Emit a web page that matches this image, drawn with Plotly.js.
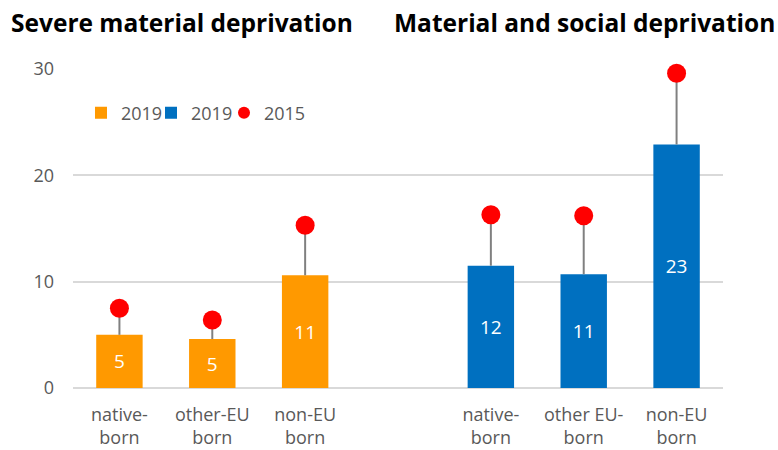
<!DOCTYPE html>
<html>
<head>
<meta charset="utf-8">
<script src="https://cdn.plot.ly/plotly-3.0.1.min.js"></script>
<style>
  html, body { margin: 0; padding: 0; background: #fff; }
  #chart { width: 778px; height: 450px; }
</style>
</head>
<body>
<div id="chart"></div>
<script>
// ---- data ----
var categoryKeys = ['sm_native', 'sm_otherEU', 'sm_nonEU', 'gap', 'msd_native', 'msd_otherEU', 'msd_nonEU'];
var tickLabels = ['native-<br>born', 'other-EU<br>born', 'non-EU<br>born', '', 'native-<br>born', 'other EU-<br>born', 'non-EU<br>born'];

var severeKeys = ['sm_native', 'sm_otherEU', 'sm_nonEU'];
var severe2019 = [5.0, 4.6, 10.6];
var severe2015 = [7.5, 6.4, 15.3];

var socialKeys = ['msd_native', 'msd_otherEU', 'msd_nonEU'];
var social2019 = [11.5, 10.7, 22.9];
var social2015 = [16.3, 16.2, 29.6];

var titleLeft = 'Severe material deprivation';
var titleRight = 'Material and social deprivation';

// ---- styles ----
var FONT = 'Open Sans, Noto Sans, sans-serif';
var GREY_TEXT = '#595959';
var ORANGE = '#FF9900';
var BLUE = '#0070C0';
var RED = '#FF0000';
var STEM = '#808080';

function diffs(a, b) { return a.map(function (v, i) { return b[i] - v; }); }
function zeros(a) { return a.map(function () { return 0; }); }
function rounded(a) { return a.map(function (v) { return String(Math.round(v)); }); }

var barCommon = {
  type: 'bar',
  width: 0.5,
  textposition: 'inside',
  insidetextanchor: 'middle',
  textangle: 0,
  textfont: { color: '#ffffff', size: 19, family: FONT },
  hoverinfo: 'skip'
};

var traces = [
  Object.assign({}, barCommon, {
    name: '2019',
    legend: 'legend',
    x: severeKeys,
    y: severe2019,
    text: rounded(severe2019),
    marker: { color: ORANGE },
    error_y: { type: 'data', symmetric: false, array: diffs(severe2019, severe2015), arrayminus: zeros(severe2019), width: 0, thickness: 2, color: STEM }
  }),
  Object.assign({}, barCommon, {
    name: '2019',
    legend: 'legend2',
    x: socialKeys,
    y: social2019,
    text: rounded(social2019),
    marker: { color: BLUE },
    error_y: { type: 'data', symmetric: false, array: diffs(social2019, social2015), arrayminus: zeros(social2019), width: 0, thickness: 2, color: STEM }
  }),
  {
    type: 'scatter',
    mode: 'markers',
    name: '2015',
    legend: 'legend3',
    x: severeKeys.concat(socialKeys),
    y: severe2015.concat(social2015),
    marker: { color: RED, size: 19 },
    cliponaxis: false,
    hoverinfo: 'skip'
  }
];

function legendAt(xPaper) {
  return {
    orientation: 'h',
    x: xPaper, xanchor: 'left',
    y: 0.862, yanchor: 'middle',
    font: { size: 18, color: GREY_TEXT, family: FONT },
    itemsizing: 'constant',
    bgcolor: 'rgba(0,0,0,0)'
  };
}

var layout = {
  width: 778,
  height: 450,
  margin: { l: 73, r: 55, t: 69, b: 62 },
  paper_bgcolor: '#ffffff',
  plot_bgcolor: '#ffffff',
  font: { family: FONT, color: GREY_TEXT, size: 18 },
  barmode: 'overlay',
  showlegend: true,
  legend: legendAt(0.0123),
  legend2: legendAt(0.12),
  legend3: legendAt(0.2323),
  xaxis: {
    type: 'category',
    categoryorder: 'array',
    categoryarray: categoryKeys,
    tickvals: categoryKeys,
    ticktext: tickLabels,
    range: [-0.5, 6.5],
    showgrid: false,
    showline: false,
    zeroline: false,
    ticks: '',
    ticklabelstandoff: 14,
    tickfont: { size: 18, color: GREY_TEXT }
  },
  yaxis: {
    range: [0, 30],
    tickvals: [0, 10, 20, 30],
    showgrid: true,
    gridcolor: '#D9D9D9',
    gridwidth: 2,
    zeroline: true,
    zerolinecolor: '#D9D9D9',
    zerolinewidth: 2,
    showline: false,
    ticks: '',
    ticklabelstandoff: 18,
    tickfont: { size: 18, color: GREY_TEXT }
  },
  annotations: [
    {
      text: titleLeft, xref: 'paper', yref: 'paper', x: -73 / 650, xshift: 9, y: 1, yshift: 47,
      xanchor: 'left', yanchor: 'middle', showarrow: false,
      font: { family: FONT, size: 24.5, color: '#000000', weight: 700 }
    },
    {
      text: titleRight, xref: 'paper', yref: 'paper', x: (392 - 73) / 650, y: 1, yshift: 47,
      xanchor: 'left', yanchor: 'middle', showarrow: false,
      font: { family: FONT, size: 24.5, color: '#000000', weight: 700 }
    }
  ]
};

Plotly.newPlot('chart', traces, layout, { displayModeBar: false, staticPlot: true });
</script>
</body>
</html>
